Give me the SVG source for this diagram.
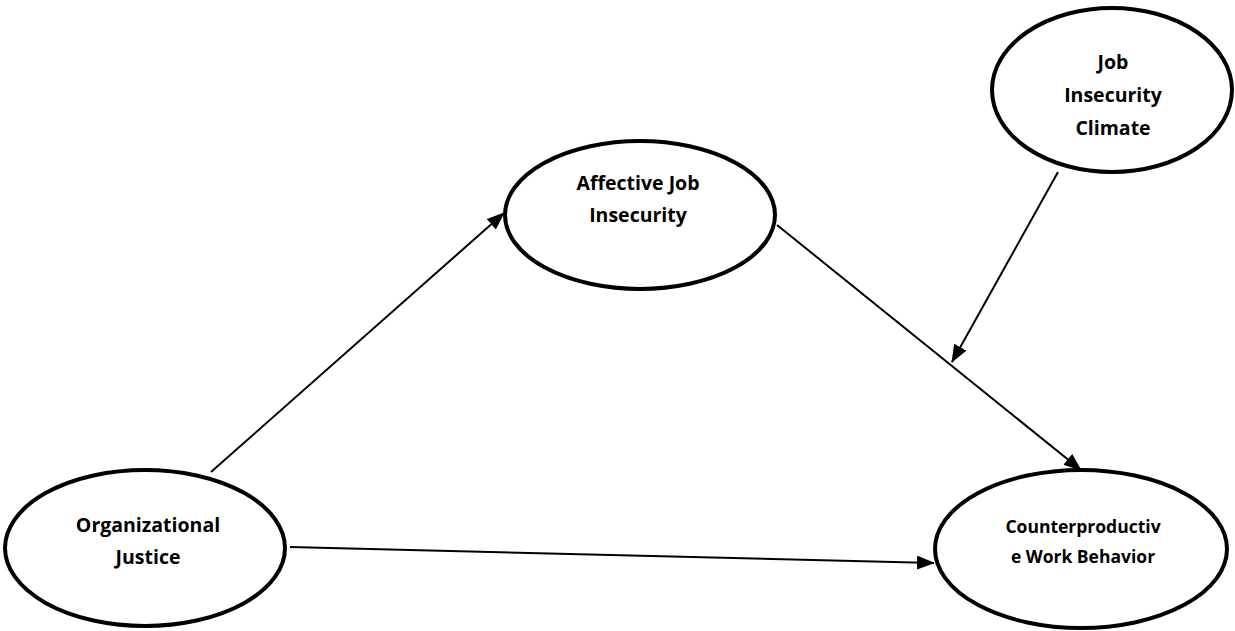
<svg xmlns="http://www.w3.org/2000/svg" width="1235" height="631" viewBox="0 0 1235 631">
<style>
.node ellipse{fill:#fff;stroke:#000;stroke-width:4}
.node text{font-family:"Open Sans","Liberation Sans",sans-serif;font-weight:bold;font-size:19.5px;fill:#000;text-anchor:middle}
.edge{stroke:#000;stroke-width:2;fill:none;marker-end:url(#arr)}
</style>
<defs>
<marker id="arr" markerUnits="userSpaceOnUse" markerWidth="18" markerHeight="14" refX="17" refY="7" orient="auto">
<path d="M0,0 L18,7 L0,14 Z" fill="#000"/>
</marker>
</defs>
<rect width="1235" height="631" fill="#fff"/>
<g id="connectors">
<line class="edge" x1="211" y1="472" x2="504" y2="213"/>
<line class="edge" x1="290" y1="547" x2="934" y2="563"/>
<line class="edge" x1="777" y1="225" x2="1081" y2="470"/>
<line class="edge" x1="1058" y1="172" x2="952" y2="362"/>
</g>
<g id="organizational-justice" class="node">
<ellipse cx="145" cy="548" rx="140" ry="78"/>
<text x="148" y="532">Organizational</text>
<text x="148" y="564">Justice</text>
</g>
<g id="affective-job-insecurity" class="node">
<ellipse cx="640" cy="215" rx="135" ry="74"/>
<text x="638" y="190">Affective Job</text>
<text x="638" y="222">Insecurity</text>
</g>
<g id="job-insecurity-climate" class="node">
<ellipse cx="1112" cy="90" rx="120" ry="82"/>
<text x="1113" y="69">Job</text>
<text x="1113" y="102">Insecurity</text>
<text x="1113" y="135">Climate</text>
</g>
<g id="counterproductive-work-behavior" class="node">
<ellipse cx="1081" cy="549" rx="146" ry="79"/>
<text x="1083" y="533" style="font-size:17.5px">Counterproductiv</text>
<text x="1083" y="563" style="font-size:17.5px">e Work Behavior</text>
</g>
</svg>
